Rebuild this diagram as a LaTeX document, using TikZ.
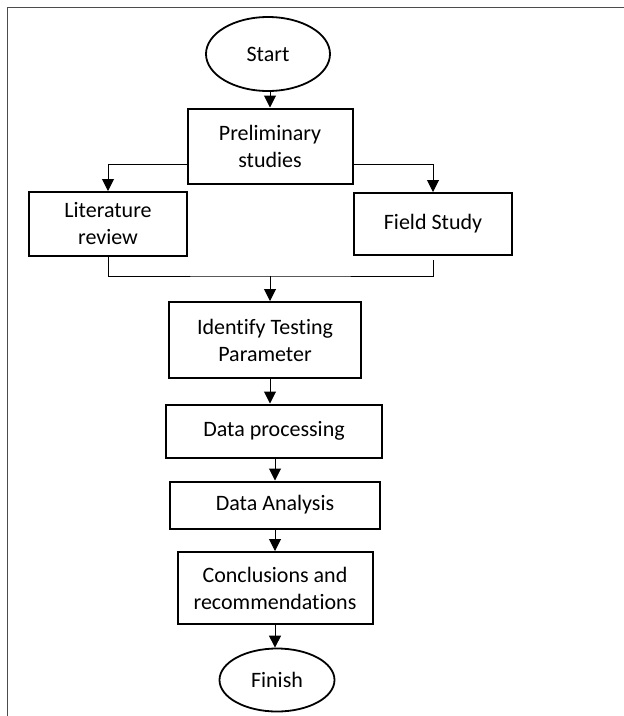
\documentclass[tikz,border=0pt]{standalone}
\usepackage{fontspec}
\setmainfont{Carlito}[Ligatures=NoCommon]
\usetikzlibrary{shapes.geometric,arrows.meta}

\tikzset{
  box/.style={draw,rectangle,line width=2pt,align=center,inner sep=0pt,
    font=\fontsize{22}{27}\selectfont},
  term/.style={draw,ellipse,line width=1.8pt,inner sep=0pt,
    font=\fontsize{22}{27}\selectfont},
  link/.style={line width=1pt,-{Triangle[length=12pt,width=12pt]}},
  plain/.style={line width=1pt}
}

\begin{document}
\begin{tikzpicture}[x=1pt,y=-1pt]
  \useasboundingbox (0,0) rectangle (624,716);
  % frame
  \draw[line width=1pt,black!70] (7,716) -- (7,7) -- (624,7);

  \node[term,minimum width=124,minimum height=74] (start) at (268,54) {Start};
  \node[box,minimum width=165,minimum height=75] (prelim) at (270,146) {Preliminary\\studies};
  \node[box,minimum width=158,minimum height=64] (lit) at (108,224) {Literature\\review};
  \node[box,minimum width=158,minimum height=62] (field) at (433,224) {Field Study};
  \node[box,minimum width=192,minimum height=76] (ident) at (265,340) {Identify Testing\\Parameter};
  \node[box,minimum width=216,minimum height=53] (proc) at (274,431) {Data processing};
  \node[box,minimum width=210,minimum height=47] (anal) at (275,505) {Data Analysis};
  \node[box,minimum width=195,minimum height=72] (concl) at (275,588) {Conclusions and\\recommendations};
  \node[term,minimum width=115,minimum height=63] (finish) at (277,680) {Finish};

  \coordinate (join) at (270,276);

  \draw[link] (prelim.north |- start.south) -- (prelim.north);
  \draw[link] ([yshift=-18pt]prelim.west) -| (lit.north);
  \draw[link] ([yshift=-18pt]prelim.east) -| (field.north);
  \draw[plain] (lit.south) |- (join) -| ([yshift=-4pt]field.south);
  \draw[link] (join) -- (join |- ident.north);
  \draw[link] ([xshift=5pt]ident.south) -- ([xshift=5pt]ident.south |- proc.north);
  \draw[link] (anal.north |- proc.south) -- (anal.north);
  \draw[link] (concl.north |- anal.south) -- (concl.north);
  \draw[link] (concl.south) -- (concl.south |- finish.north);
\end{tikzpicture}
\end{document}
